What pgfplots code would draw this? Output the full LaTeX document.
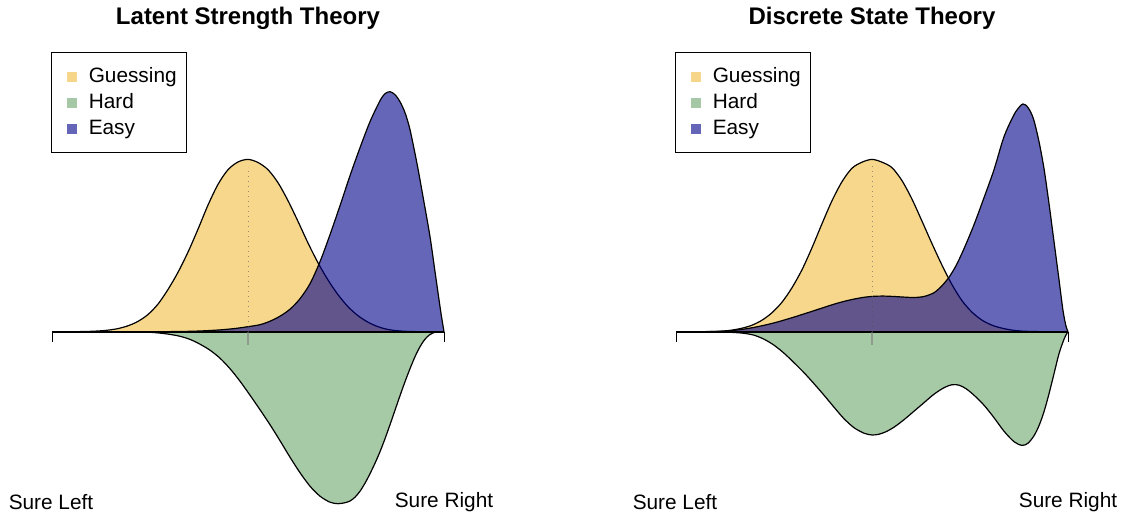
\documentclass[border=0pt]{standalone}
\usepackage{pgfplots}
\pgfplotsset{compat=1.18}
\usepackage{fontspec}
\setmainfont{Liberation Sans}
\definecolor{guessc}{RGB}{239,175,25}
\definecolor{hardc}{RGB}{0,100,0}
\definecolor{easyc}{RGB}{0,0,139}
\pgfplotsset{
  panel/.style={x=0.5pt, y=0.5pt, ymin=-185.3, ymax=331.7, hide axis, clip=false, anchor=south west,
    legend style={anchor=north west, draw=black, line width=0.6pt, fill=white,
      font=\fontsize{10.4}{12}\selectfont, inner xsep=3pt, inner ysep=5.6pt,
      column sep=3.5pt, row sep=0pt, cells={anchor=west}},
    legend image code/.code={\path (-4.5pt,0pt) (5pt,0pt); \path[##1,draw=none] (0pt,-2.5pt) rectangle (5pt,2.5pt);},
  },
  guess/.style={draw=black, line width=0.6pt, fill=guessc, fill opacity=0.5, smooth},
  hard/.style={draw=black, line width=0.6pt, fill=hardc, fill opacity=0.35, smooth},
  easy/.style={draw=black, line width=0.6pt, fill=easyc, fill opacity=0.6, smooth},
}
\begin{document}
\begin{tikzpicture}
\useasboundingbox (0,0) rectangle (564pt,258.5pt);
% ---------------- Left panel ----------------
\begin{axis}[panel, at={(0pt,0pt)}, xmin=0, xmax=564,
  legend style={at={(axis description cs:0.0904,0.8994)}}]
\addplot[guess] coordinates {(52,0) (73,0) (88,0.26) (98,0.7) (108,1.55) (118,3.1) (128,5.9) (138,10.3) (148,17.2) (158,27.6) (168,42.2) (178,59.4) (188,79.6) (198,102.5) (208,126.6) (218,147.3) (228,162) (238,169.7) (248,172.3) (258,169.2) (268,162) (278,149) (288,131) (298,110.3) (308,88.7) (318,68.9) (328,51.7) (338,37) (348,25) (358,16) (368,9.5) (378,5) (388,2.2) (398,0.9) (408,0.26) (423,0) (444,0)};
\addplot[hard] coordinates {(52,0) (130,-0.1) (140,-0.3) (150,-0.6) (160,-1.4) (170,-2.7) (180,-4.6) (190,-7.7) (200,-12.5) (210,-18.5) (220,-26.5) (230,-37) (240,-49.5) (250,-63.5) (260,-78) (270,-93) (280,-109) (290,-125.5) (300,-141) (310,-154.5) (320,-164.5) (330,-170.5) (338,-172) (345,-171) (350,-169.3) (355,-165.5) (360,-159.5) (365,-151.5) (370,-142) (375,-131.5) (380,-120) (385,-107) (390,-93) (395,-78.5) (400,-64) (405,-50) (410,-37) (415,-25) (420,-15) (425,-7.5) (430,-2.8) (435,-0.5) (438,0) (444,0)};
\addplot[easy] coordinates {(52,0) (150,0) (180,0.2) (200,0.7) (220,1.8) (235,3.2) (248,5) (260,7) (270,10.5) (280,15.5) (290,22.5) (300,33) (310,48) (320,70) (330,97) (340,126) (350,156) (360,184) (370,210) (380,231) (385,238) (390,240) (395,237) (400,230) (405,219) (410,202) (417,168) (423,135) (430,95) (435,60) (440,25) (442,12) (444,0)};
\legend{Guessing,Hard,Easy}
\draw[line width=0.9pt] (axis cs:52,0) -- (axis cs:444,0);
\draw[line width=0.5pt] (axis cs:52,0) -- (axis cs:52,-10.5);
\draw[line width=0.5pt] (axis cs:444,0) -- (axis cs:444,-10.5);
\draw[gray, opacity=0.6, line width=0.6pt] (axis cs:248,0) -- (axis cs:248,-13);
\draw[black!70, opacity=0.55, dotted, line width=0.5pt] (axis cs:248,0) -- (axis cs:248,165);
\node[font=\fontsize{12}{14}\selectfont\bfseries] at (axis cs:248,313.7) {Latent Strength Theory};
\node[font=\fontsize{10.4}{12}\selectfont] at (axis cs:51,-170.3) {Sure Left};
\node[font=\fontsize{10.4}{12}\selectfont] at (axis cs:444,-170.3) {Sure Right};
\end{axis}
% ---------------- Right panel ----------------
\begin{axis}[panel, at={(282pt,0pt)}, xmin=-60, xmax=504,
  legend style={at={(axis description cs:0.1968,0.8994)}}]
\addplot[guess] coordinates {(52,0) (73,0) (88,0.2) (98,0.6) (108,1.6) (118,3.5) (128,6.5) (138,11.5) (148,19) (158,29.5) (168,44) (178,62) (188,84) (198,108) (208,131) (218,150) (228,163.5) (238,169.5) (248,172.3) (258,169.5) (268,164) (278,151) (288,132.5) (298,110.5) (308,88) (318,66.5) (328,47) (338,31) (348,19.5) (358,11.5) (368,6.5) (378,3.5) (388,1.6) (398,0.6) (408,0.2) (423,0) (444,0)};
\addplot[hard] coordinates {(52,0) (90,0) (100,-0.3) (110,-0.8) (120,-1.6) (130,-3.5) (140,-7.5) (150,-13.5) (160,-21.5) (170,-31) (180,-41) (190,-52) (200,-63.5) (210,-75.5) (220,-87) (230,-96) (240,-101.5) (248,-103.3) (255,-102.5) (262,-100) (270,-95.5) (280,-88) (290,-79.5) (300,-71) (310,-62.5) (320,-56) (328,-53) (335,-53.5) (342,-57) (350,-63.5) (360,-73.5) (370,-86) (380,-99.5) (390,-110) (398,-113.7) (404,-111.5) (410,-104) (415,-94) (420,-80) (425,-62) (430,-42) (435,-22) (440,-7.5) (443,-1.5) (444,0)};
\addplot[easy] coordinates {(52,0) (80,0) (100,0.5) (110,1.3) (120,2.6) (130,4.3) (140,6.4) (150,8.8) (160,11.6) (170,14.6) (180,17.8) (190,21) (200,24.3) (210,27.5) (220,30.3) (230,32.6) (240,34.4) (250,35.4) (260,35.6) (270,35.2) (280,34.6) (290,34.2) (300,35.2) (310,39) (318,46) (325,54.5) (332,66) (340,83) (350,107) (360,134) (370,162) (380,195) (390,217) (396,225.5) (399,227.7) (402,226.5) (406,221) (410,211) (415,190) (420,163) (425,128) (430,90) (435,52) (439,21) (442,5.5) (444,0)};
\legend{Guessing,Hard,Easy}
\draw[line width=0.9pt] (axis cs:52,0) -- (axis cs:444,0);
\draw[line width=0.5pt] (axis cs:52,0) -- (axis cs:52,-10.5);
\draw[line width=0.5pt] (axis cs:444,0) -- (axis cs:444,-10.5);
\draw[gray, opacity=0.6, line width=0.6pt] (axis cs:248,0) -- (axis cs:248,-13);
\draw[black!70, opacity=0.55, dotted, line width=0.5pt] (axis cs:248,0) -- (axis cs:248,168);
\node[font=\fontsize{12}{14}\selectfont\bfseries] at (axis cs:248,313.7) {Discrete State Theory};
\node[font=\fontsize{10.4}{12}\selectfont] at (axis cs:51,-170.3) {Sure Left};
\node[font=\fontsize{10.4}{12}\selectfont] at (axis cs:444,-170.3) {Sure Right};
\end{axis}
\end{tikzpicture}
\end{document}
